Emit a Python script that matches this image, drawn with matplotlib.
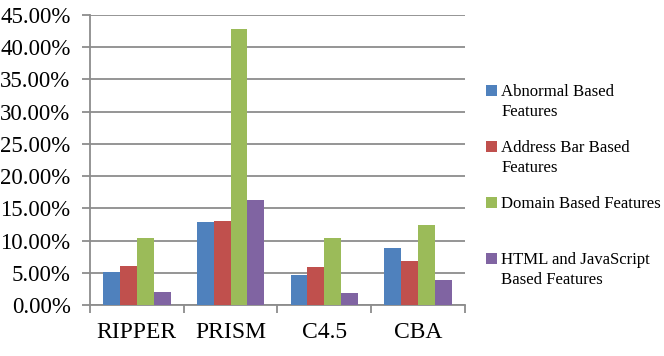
import numpy as np
import matplotlib.pyplot as plt
from matplotlib.ticker import PercentFormatter

plt.rcParams['font.family'] = ['Liberation Serif', 'DejaVu Serif']

# 数据
categories = ['RIPPER', 'PRISM', 'C4.5', 'CBA']
series_first = ['Abnormal Based', 'Address Bar Based',
                'Domain Based Features', 'HTML and JavaScript']
series_second = ['Features', 'Features', '', 'Based Features']
abnormal = [5.17, 12.90, 4.60, 8.80]
address_bar = [6.05, 13.10, 5.95, 6.83]
domain = [10.45, 42.80, 10.45, 12.42]
html_js = [1.97, 16.25, 1.86, 3.88]
colors = ['#4F81BD', '#C0504D', '#9BBB59', '#8064A2']
grid_c = '#8C8C8C'

fig = plt.figure(figsize=(6.64, 3.56), dpi=100)
ax = fig.add_axes([0.1355, 0.1433, 0.5645, 0.8147])

x = np.arange(len(categories))
w = 0.18
handles = []
for i, (vals, c) in enumerate(zip([abnormal, address_bar, domain, html_js], colors)):
    b = ax.bar(x + (i - 1.5) * w, vals, w, color=c, zorder=3)
    handles.append(b)

ax.set_xlim(-0.5, 3.5)
ax.set_ylim(0, 45)
ax.set_yticks(np.arange(0, 46, 5))
ax.yaxis.set_major_formatter(PercentFormatter(decimals=2))
ax.grid(axis='y', color=grid_c, linewidth=1.3, zorder=0)

# x轴刻度放在类别边界
ax.set_xticks(x)
ax.set_xticklabels(categories, fontsize=17)
ax.set_xticks(np.arange(-0.5, 4, 1), minor=True)
ax.tick_params(axis='x', which='major', length=0, pad=12)
ax.tick_params(axis='x', which='minor', length=6, color=grid_c, width=1.3)
ax.tick_params(axis='y', length=6, color=grid_c, width=1.3, labelsize=16.5, pad=8)

for s in ['top', 'right']:
    ax.spines[s].set_visible(False)
for s in ['left', 'bottom']:
    ax.spines[s].set_color(grid_c)
    ax.spines[s].set_linewidth(1.3)

# 图例：色块与第一行对齐，第二行单独写
fs = 12.1
leg = fig.legend(handles, series_first, loc='upper left', bbox_to_anchor=(0.732, 0.763),
                 frameon=False, prop={'size': fs}, handlelength=0.65, handleheight=0.65,
                 handletextpad=0.25, labelspacing=2.38, borderaxespad=0, borderpad=0)
fig.canvas.draw()
inv = fig.transFigure.inverted()
for t, extra in zip(leg.get_texts(), series_second):
    if not extra:
        continue
    bb = t.get_window_extent()
    x0, y0 = inv.transform((bb.x0, bb.y0 - 20))
    fig.text(x0, y0, extra, fontsize=fs, va='bottom', ha='left')

plt.savefig('out.png', dpi=100)
